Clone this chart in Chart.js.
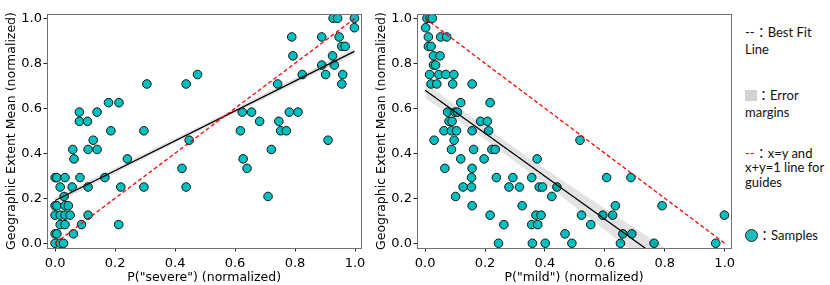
<!DOCTYPE html>
<html>
<head>
<meta charset="utf-8">
<script src="https://cdn.jsdelivr.net/npm/chart.js@4.4.1/dist/chart.umd.min.js"></script>
<style>
  body { margin: 0; background: #fff; width: 830px; height: 285px; overflow: hidden; position: relative; }
  canvas { position: absolute; top: 0; }
  #c1 { left: 0; }
  #c2 { left: 370px; }
  .lg { position: absolute; left: 745px; font-family: Lato, sans-serif; font-size: 13px; color: #111; white-space: nowrap; line-height: 16px; }
  .cn { font-family: "Noto Sans CJK TC", sans-serif; }
  .sq { display: inline-block; width: 12px; height: 11px; background: #d3d3d3; vertical-align: -1px; }
  .dot { display: inline-block; width: 11px; height: 11px; border-radius: 50%; background: #1fbcbc; border: 1px solid #222; vertical-align: -2px; }
</style>
</head>
<body>
<canvas id="c1" width="370" height="285"></canvas>
<canvas id="c2" width="370" height="285"></canvas>

<div class="lg" style="top:24px">--<span class="cn">：</span>Best Fit</div>
<div class="lg" style="top:41px">Line</div>
<div class="lg" style="top:87px"><span class="sq"></span><span class="cn">：</span>Error</div>
<div class="lg" style="top:104px">margins</div>
<div class="lg" style="top:145px"><span style="color:#ff0000">--</span><span class="cn">：</span>x=y and</div>
<div class="lg" style="top:159px">x+y=1 line for</div>
<div class="lg" style="top:174px">guides</div>
<div class="lg" style="top:227px"><span class="dot"></span><span class="cn">：</span>Samples</div>

<script>
// samples: P("severe") vs geographic extent
const severeX = [0, 0.017, 0.028, 0, 0.006, 0.061, 0.017, 0.033, 0.088, 0.212,
  0, 0.017, 0.033, 0.05, 0.11, 0, 0.006, 0.033, 0.044, 0.03,
  0.017, 0.057, 0.11, 0.219, 0.296, 0.437, 0, 0.006, 0.033, 0.083,
  0.166, 0.423, 0.063, 0.241, 0.059, 0.11, 0.14, 0.127, 0.447, 0.186,
  0.296, 0.081, 0.108, 0.081, 0.14, 0.178, 0.213, 0.306, 0.437, 0.475,
  0.624, 0.655, 0.618, 0.682, 0.627, 0.64, 0.721, 0.71, 0.742, 0.746,
  0.752, 0.771, 0.781, 0.81, 0.789, 0.793, 0.824, 0.889, 0.889, 0.902,
  0.91, 0.925, 0.931, 0.927, 0.942, 0.947, 0.956, 0.967, 0.959, 0.956,
  0.998, 0.998];
const severeY = [0, 0, 0, 0.042, 0.042, 0.042, 0.083, 0.083, 0.083, 0.083,
  0.125, 0.125, 0.125, 0.125, 0.125, 0.167, 0.167, 0.167, 0.167, 0.208,
  0.25, 0.25, 0.25, 0.25, 0.25, 0.25, 0.292, 0.292, 0.292, 0.292,
  0.292, 0.333, 0.375, 0.375, 0.417, 0.417, 0.417, 0.458, 0.458, 0.5,
  0.5, 0.542, 0.542, 0.583, 0.583, 0.625, 0.625, 0.708, 0.708, 0.75,
  0.583, 0.583, 0.5, 0.542, 0.375, 0.333, 0.417, 0.208, 0.708, 0.542,
  0.5, 0.5, 0.583, 0.583, 0.917, 0.833, 0.75, 0.917, 0.792, 0.75,
  0.458, 0.833, 0.792, 1.0, 1.0, 0.917, 0.875, 0.875, 0.75, 0.708,
  1.0, 0.958];

// samples: P("mild") vs geographic extent
const mildX = [0.006, 0.017, 0.024, 0.002, 0.011, 0.052, 0.072, 0.011, 0.02, 0.028,
  0.05, 0.028, 0.035, 0.015, 0.046, 0.069, 0.096, 0.02, 0.039, 0.092,
  0.157, 0.119, 0.217, 0.075, 0.1, 0.108, 0.08, 0.09, 0.185, 0.208,
  0.063, 0.088, 0.105, 0.157, 0.212, 0.03, 0.097, 0.517, 0.088, 0.162,
  0.223, 0.234, 0.119, 0.197, 0.374, 0.066, 0.157, 0.155, 0.238, 0.293,
  0.356, 0.606, 0.687, 0.127, 0.155, 0.28, 0.315, 0.381, 0.392, 0.44,
  0.102, 0.423, 0.157, 0.324, 0.635, 0.791, 0.217, 0.37, 0.387, 0.522,
  0.593, 0.626, 0.999, 0.263, 0.356, 0.376, 0.553, 0.467, 0.66, 0.69,
  0.245, 0.358, 0.401, 0.49, 0.652, 0.764, 0.97];
const mildY = [1.0, 1.0, 1.0, 0.958, 0.917, 0.917, 0.917, 0.875, 0.875, 0.833,
  0.833, 0.792, 0.792, 0.75, 0.75, 0.75, 0.75, 0.708, 0.708, 0.708,
  0.708, 0.625, 0.625, 0.583, 0.583, 0.583, 0.542, 0.542, 0.542, 0.542,
  0.5, 0.5, 0.5, 0.5, 0.5, 0.458, 0.458, 0.458, 0.417, 0.417,
  0.417, 0.417, 0.375, 0.375, 0.375, 0.333, 0.333, 0.292, 0.292, 0.292,
  0.292, 0.292, 0.292, 0.25, 0.25, 0.25, 0.25, 0.25, 0.25, 0.25,
  0.208, 0.208, 0.167, 0.167, 0.167, 0.167, 0.125, 0.125, 0.125, 0.125,
  0.125, 0.125, 0.125, 0.083, 0.083, 0.083, 0.083, 0.042, 0.042, 0.042,
  0, 0, 0, 0, 0, 0, 0];

// best fit lines + error band
const severeFitX = [0, 0.5, 0.998];
const severeFit = [0.19, 0.522, 0.853];
const severeBandHi = [0.205, 0.532, 0.868];
const severeBandLo = [0.175, 0.512, 0.838];

const mildFitX = [0, 0.2, 0.4, 0.6, 0.8, 1.0];
const mildFit = [0.68, 0.489, 0.298, 0.107, -0.084, -0.275];
const mildBandHi = [0.714, 0.517, 0.331, 0.155, -0.02, -0.19];
const mildBandLo = [0.646, 0.461, 0.265, 0.059, -0.148, -0.36];

// guide lines x=y and x+y=1
const guideX = [0, 1];
const guideSevere = [0, 1];
const guideMild = [1, 0];

const tickVals = [0, 0.2, 0.4, 0.6, 0.8, 1.0];

function pts(xs, ys) {
    return xs.map((x, i) => ({ x: x, y: ys[i] }));
}

const frame = {
    id: 'frame',
    afterDatasetsDraw(chart) {
        const a = chart.chartArea;
        const ctx = chart.ctx;
        ctx.save();
        ctx.strokeStyle = '#707070';
        ctx.lineWidth = 1;
        ctx.strokeRect(Math.round(a.left) + 0.5, Math.round(a.top) + 0.5,
            Math.round(a.right - a.left), Math.round(a.bottom - a.top));
        ctx.restore();
    }
};

function makeChart(id, xs, ys, fitX, fit, hi, lo, guide, xTitle, padRight) {
    const axisFont = { family: 'DejaVu Sans', size: 12.5 };
    const tickFont = { family: 'DejaVu Sans', size: 13 };
    return new Chart(document.getElementById(id), {
        type: 'scatter',
        data: {
            datasets: [
                {
                    type: 'line',
                    data: pts(guideX, guide),
                    borderColor: '#ff0000',
                    borderWidth: 1.3,
                    borderDash: [4, 2.5],
                    pointRadius: 0,
                    order: 1
                },
                {
                    type: 'line',
                    data: pts(fitX, fit),
                    borderColor: '#000',
                    borderWidth: 1.3,
                    pointRadius: 0,
                    order: 2
                },
                {
                    type: 'line',
                    data: pts(fitX, hi),
                    borderWidth: 0,
                    pointRadius: 0,
                    backgroundColor: 'rgba(0,0,0,0.11)',
                    fill: '+1',
                    order: 3
                },
                {
                    type: 'line',
                    data: pts(fitX, lo),
                    borderWidth: 0,
                    pointRadius: 0,
                    fill: false,
                    order: 3
                },
                {
                    data: pts(xs, ys),
                    backgroundColor: '#00bfbf',
                    borderColor: '#111',
                    borderWidth: 1,
                    pointRadius: 4.3,
                    order: 5
                }
            ]
        },
        options: {
            responsive: false,
            animation: false,
            layout: { padding: { top: 14, right: padRight, left: 0, bottom: 0 } },
            plugins: { legend: { display: false }, tooltip: { enabled: false } },
            scales: {
                x: {
                    type: 'linear',
                    min: -0.027,
                    max: 1.021,
                    afterBuildTicks: s => { s.ticks = tickVals.map(v => ({ value: v })); },
                    afterFit: s => { s.height = 37; },
                    ticks: { font: tickFont, color: '#000', padding: 4.5, callback: v => v.toFixed(1), maxRotation: 0 },
                    grid: { drawOnChartArea: false, drawTicks: true, tickLength: 3.5, tickColor: '#222' },
                    border: { display: false },
                    title: { display: true, text: xTitle, font: axisFont, color: '#000', padding: { top: 0, bottom: 0 } }
                },
                y: {
                    min: -0.021,
                    max: 1.019,
                    afterBuildTicks: s => { s.ticks = tickVals.map(v => ({ value: v })); },
                    afterFit: s => { s.width = 47; },
                    ticks: { font: tickFont, color: '#000', padding: 1.5, callback: v => v.toFixed(1) },
                    grid: { drawOnChartArea: false, drawTicks: true, tickLength: 3.5, tickColor: '#222' },
                    border: { display: false },
                    title: { display: true, text: 'Geographic Extent Mean (normalized)', font: axisFont, color: '#000', padding: { top: 4.5, bottom: 0 } }
                }
            }
        },
        plugins: [frame]
    });
}

makeChart('c1', severeX, severeY, severeFitX, severeFit, severeBandHi, severeBandLo, guideSevere, 'P("severe") (normalized)', 7);
makeChart('c2', mildX, mildY, mildFitX, mildFit, mildBandHi, mildBandLo, guideMild, 'P("mild") (normalized)', 9);
</script>
</body>
</html>
